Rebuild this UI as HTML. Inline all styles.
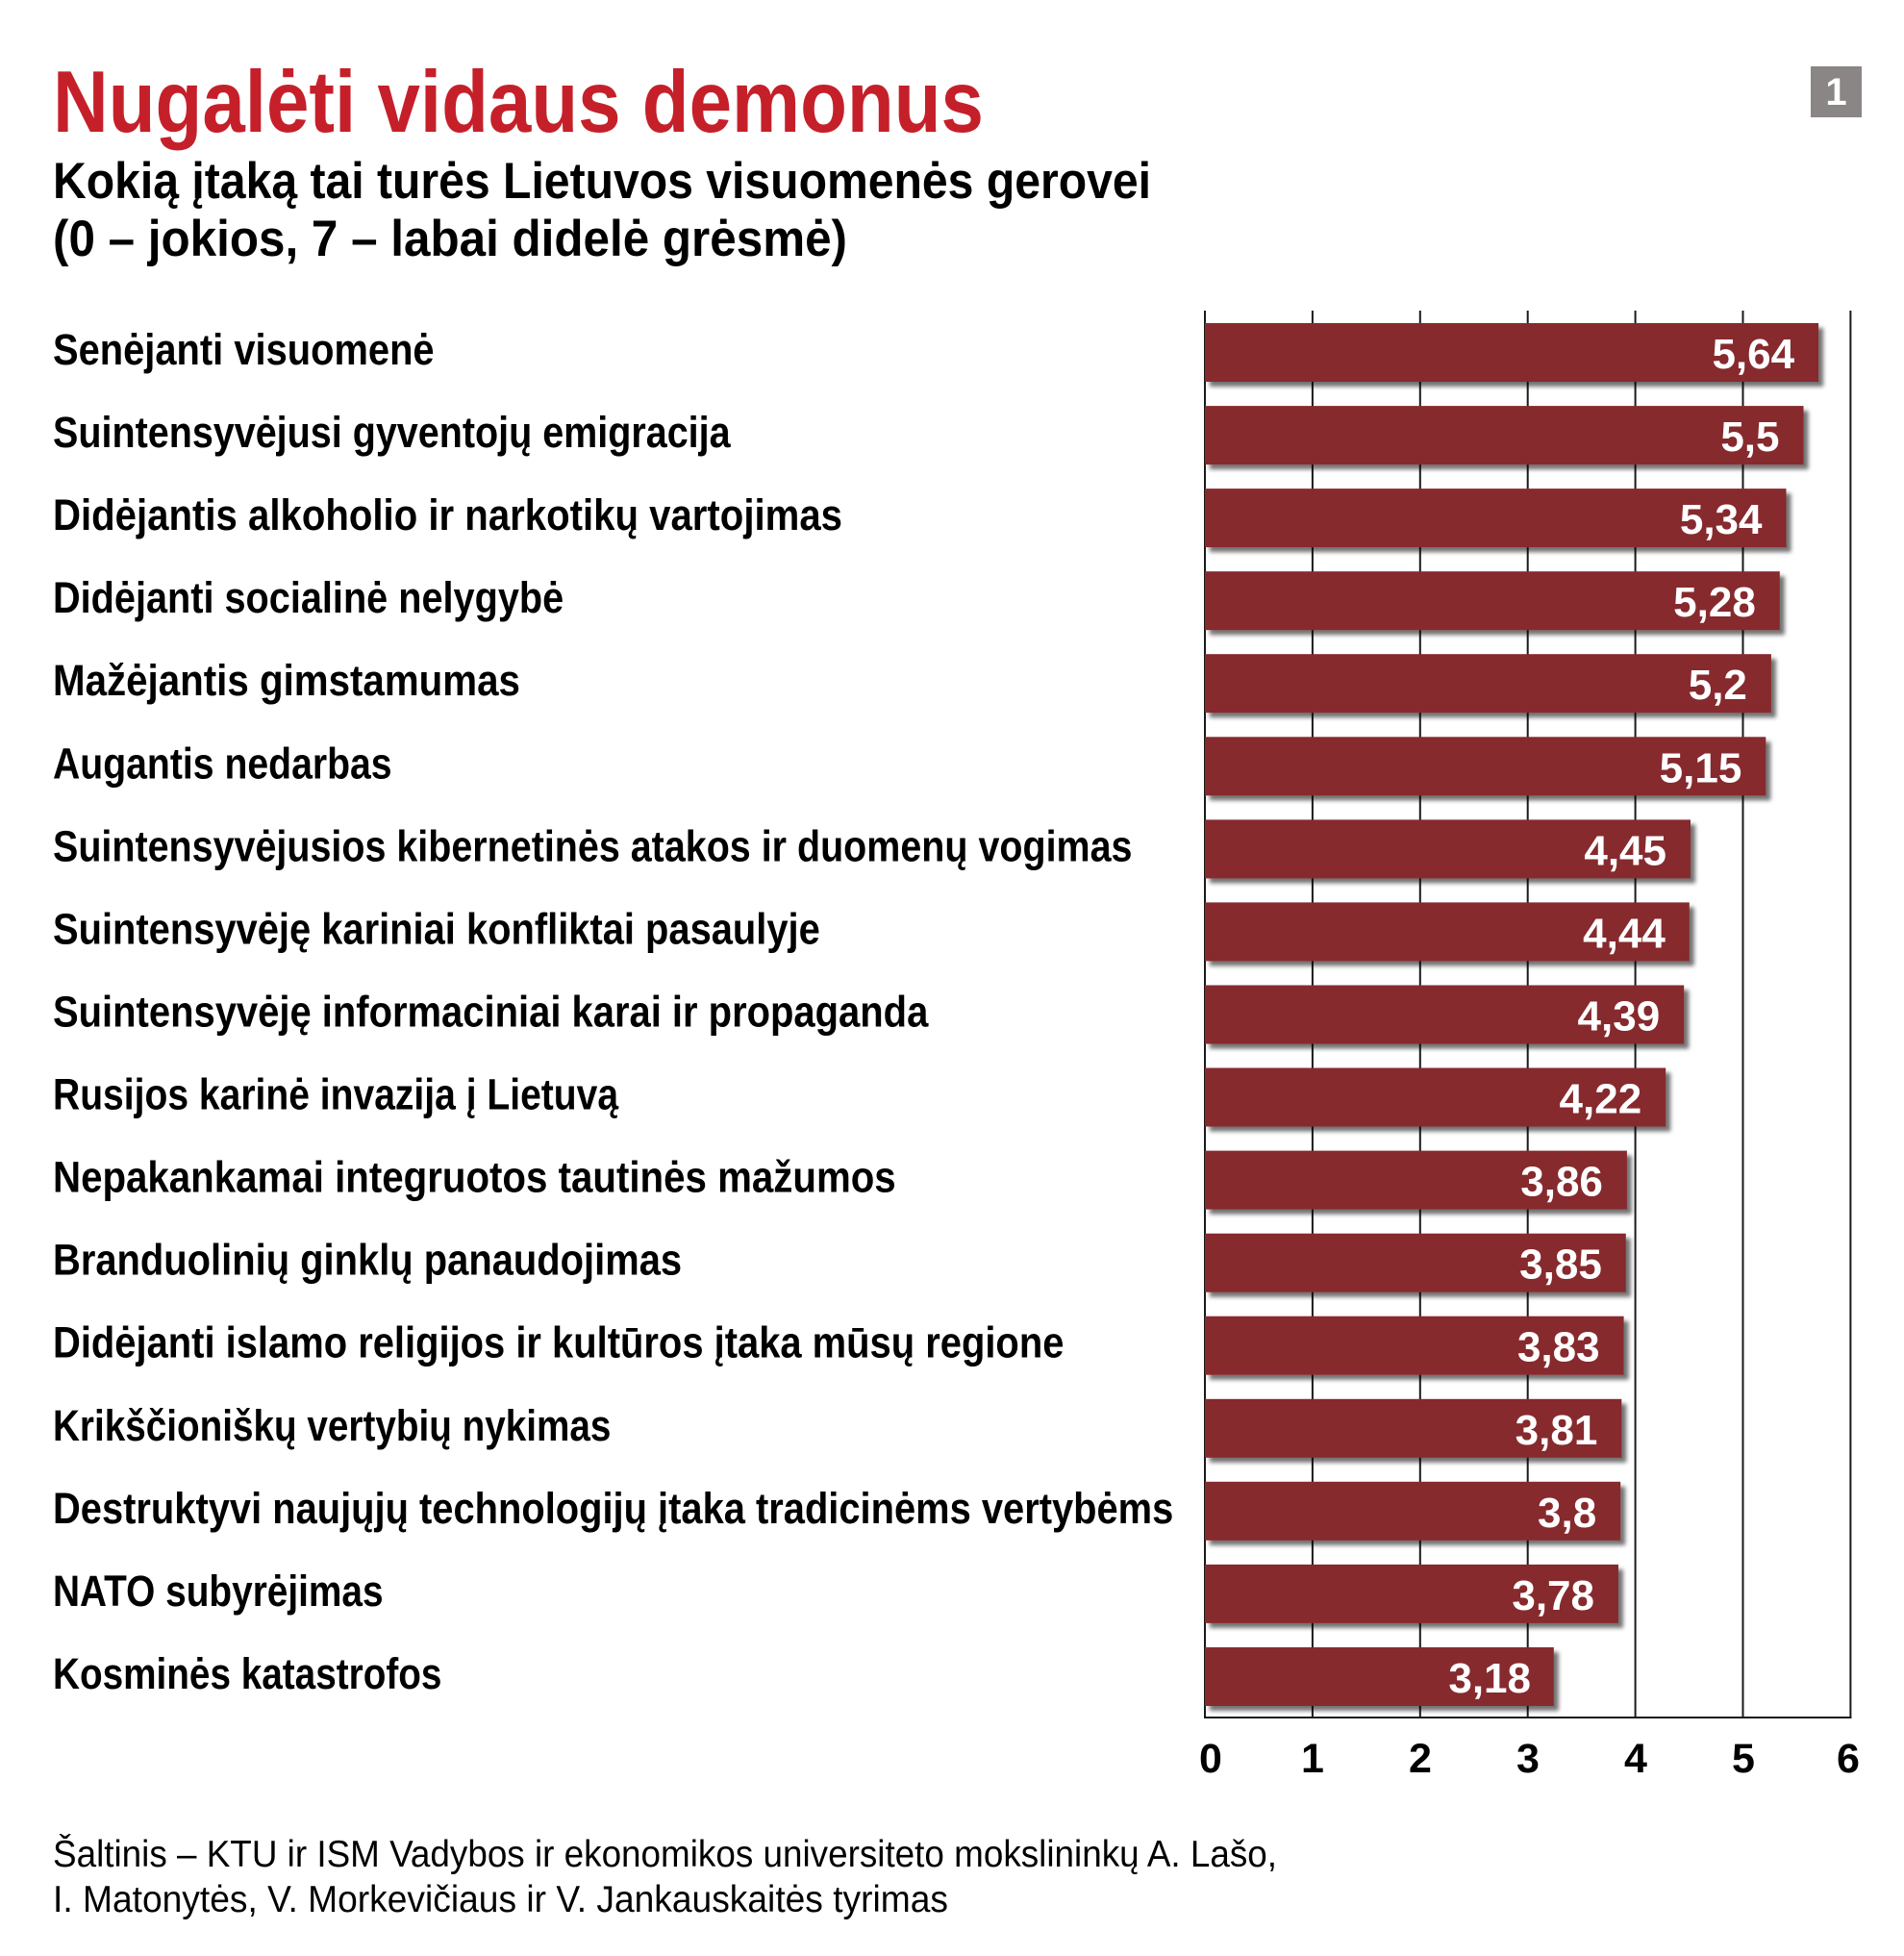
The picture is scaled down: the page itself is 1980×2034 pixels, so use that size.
<!DOCTYPE html>
<html>
<head>
<meta charset="utf-8">
<style>
  html,body{margin:0;padding:0;background:#fff;}
  svg{display:block;}
  text{font-family:"Liberation Sans", Arial, sans-serif;}
</style>
</head>
<body>
<svg width="1980" height="2034" viewBox="0 0 1980 2034" xmlns="http://www.w3.org/2000/svg">
  <defs>
    <filter id="sh" x="-5%" y="-20%" width="115%" height="160%">
      <feDropShadow dx="5" dy="5" stdDeviation="2.2" flood-color="#000" flood-opacity="0.55"/>
    </filter>
  </defs>
  <rect width="1980" height="2034" fill="#fff"/>

  <!-- Title -->
  <text x="55" y="137" font-size="91" font-weight="bold" fill="#c5202a" textLength="968" lengthAdjust="spacingAndGlyphs">Nugalėti vidaus demonus</text>
  <text x="55" y="206" font-size="53" font-weight="bold" fill="#000" textLength="1142" lengthAdjust="spacingAndGlyphs">Kokią įtaką tai turės Lietuvos visuomenės gerovei</text>
  <text x="55" y="266" font-size="53" font-weight="bold" fill="#000" textLength="826" lengthAdjust="spacingAndGlyphs">(0 – jokios, 7 – labai didelė grėsmė)</text>

  <!-- Badge -->
  <rect x="1883" y="69" width="53" height="53" fill="#8a8686"/>
  <text x="1909.5" y="109" font-size="40" font-weight="bold" fill="#fff" text-anchor="middle">1</text>

  <!-- Grid lines -->
  <g stroke="#1a1a1a" stroke-width="2">
    <line x1="1253" y1="323" x2="1253" y2="1787"/>
    <line x1="1364.9" y1="323" x2="1364.9" y2="1787"/>
    <line x1="1476.8" y1="323" x2="1476.8" y2="1787"/>
    <line x1="1588.7" y1="323" x2="1588.7" y2="1787"/>
    <line x1="1700.6" y1="323" x2="1700.6" y2="1787"/>
    <line x1="1812.5" y1="323" x2="1812.5" y2="1787"/>
    <line x1="1924.4" y1="323" x2="1924.4" y2="1787"/>
    <line x1="1252" y1="1786" x2="1925.4" y2="1786"/>
  </g>

  <!-- Bars -->
  <g fill="#862a2d" filter="url(#sh)">
    <rect x="1253" y="336" width="638.1" height="61"/>
    <rect x="1253" y="422.1" width="622.5" height="61"/>
    <rect x="1253" y="508.1" width="604.5" height="61"/>
    <rect x="1253" y="594.2" width="597.8" height="61"/>
    <rect x="1253" y="680.2" width="588.9" height="61"/>
    <rect x="1253" y="766.3" width="583.3" height="61"/>
    <rect x="1253" y="852.4" width="505" height="61"/>
    <rect x="1253" y="938.4" width="503.8" height="61"/>
    <rect x="1253" y="1024.5" width="498.2" height="61"/>
    <rect x="1253" y="1110.5" width="479.2" height="61"/>
    <rect x="1253" y="1196.6" width="438.9" height="61"/>
    <rect x="1253" y="1282.7" width="437.8" height="61"/>
    <rect x="1253" y="1368.7" width="435.6" height="61"/>
    <rect x="1253" y="1454.8" width="433.3" height="61"/>
    <rect x="1253" y="1540.8" width="432.2" height="61"/>
    <rect x="1253" y="1626.9" width="430" height="61"/>
    <rect x="1253" y="1713" width="362.8" height="61"/>
  </g>

  <!-- Value labels -->
  <g font-size="44" font-weight="bold" fill="#fff" text-anchor="end">
    <text x="1866.1" y="383">5,64</text>
    <text x="1850.5" y="469.1">5,5</text>
    <text x="1832.5" y="555.1">5,34</text>
    <text x="1825.8" y="641.2">5,28</text>
    <text x="1816.9" y="727.2">5,2</text>
    <text x="1811.3" y="813.3">5,15</text>
    <text x="1733" y="899.4">4,45</text>
    <text x="1731.8" y="985.4">4,44</text>
    <text x="1726.2" y="1071.5">4,39</text>
    <text x="1707.2" y="1157.5">4,22</text>
    <text x="1666.9" y="1243.6">3,86</text>
    <text x="1665.8" y="1329.7">3,85</text>
    <text x="1663.6" y="1415.7">3,83</text>
    <text x="1661.3" y="1501.8">3,81</text>
    <text x="1660.2" y="1587.8">3,8</text>
    <text x="1658" y="1673.9">3,78</text>
    <text x="1592" y="1760">3,18</text>
  </g>

  <!-- Category labels -->
  <g font-size="45" font-weight="bold" fill="#000" lengthAdjust="spacingAndGlyphs">
    <text x="55" y="379" textLength="396.6" lengthAdjust="spacingAndGlyphs">Senėjanti visuomenė</text>
    <text x="55" y="465.1" textLength="704.6" lengthAdjust="spacingAndGlyphs">Suintensyvėjusi gyventojų emigracija</text>
    <text x="55" y="551.1" textLength="821" lengthAdjust="spacingAndGlyphs">Didėjantis alkoholio ir narkotikų vartojimas</text>
    <text x="55" y="637.2" textLength="531.2" lengthAdjust="spacingAndGlyphs">Didėjanti socialinė nelygybė</text>
    <text x="55" y="723.2" textLength="485.9" lengthAdjust="spacingAndGlyphs">Mažėjantis gimstamumas</text>
    <text x="55" y="809.3" textLength="352.6" lengthAdjust="spacingAndGlyphs">Augantis nedarbas</text>
    <text x="55" y="895.4" textLength="1122.5" lengthAdjust="spacingAndGlyphs">Suintensyvėjusios kibernetinės atakos ir duomenų vogimas</text>
    <text x="55" y="981.4" textLength="797.8" lengthAdjust="spacingAndGlyphs">Suintensyvėję kariniai konfliktai pasaulyje</text>
    <text x="55" y="1067.5" textLength="910.3" lengthAdjust="spacingAndGlyphs">Suintensyvėję informaciniai karai ir propaganda</text>
    <text x="55" y="1153.5" textLength="588.1" lengthAdjust="spacingAndGlyphs">Rusijos karinė invazija į Lietuvą</text>
    <text x="55" y="1239.6" textLength="876.7" lengthAdjust="spacingAndGlyphs">Nepakankamai integruotos tautinės mažumos</text>
    <text x="55" y="1325.7" textLength="654.1" lengthAdjust="spacingAndGlyphs">Branduolinių ginklų panaudojimas</text>
    <text x="55" y="1411.7" textLength="1051.4" lengthAdjust="spacingAndGlyphs">Didėjanti islamo religijos ir kultūros įtaka mūsų regione</text>
    <text x="55" y="1497.8" textLength="580.4" lengthAdjust="spacingAndGlyphs">Krikščioniškų vertybių nykimas</text>
    <text x="55" y="1583.8" textLength="1165.3" lengthAdjust="spacingAndGlyphs">Destruktyvi naujųjų technologijų įtaka tradicinėms vertybėms</text>
    <text x="55" y="1669.9" textLength="343.6" lengthAdjust="spacingAndGlyphs">NATO subyrėjimas</text>
    <text x="55" y="1756" textLength="404.4" lengthAdjust="spacingAndGlyphs">Kosminės katastrofos</text>
  </g>

  <!-- Axis tick labels -->
  <g font-size="43" font-weight="bold" fill="#000" text-anchor="middle">
    <text x="1259" y="1843">0</text>
    <text x="1365" y="1843">1</text>
    <text x="1477" y="1843">2</text>
    <text x="1589" y="1843">3</text>
    <text x="1701" y="1843">4</text>
    <text x="1813" y="1843">5</text>
    <text x="1922" y="1843">6</text>
  </g>

  <!-- Source -->
  <text x="55" y="1941" font-size="38.5" fill="#000" textLength="1273" lengthAdjust="spacingAndGlyphs">Šaltinis – KTU ir ISM Vadybos ir ekonomikos universiteto mokslininkų A. Lašo,</text>
  <text x="55" y="1988" font-size="38.5" fill="#000" textLength="931" lengthAdjust="spacingAndGlyphs">I. Matonytės, V. Morkevičiaus ir V. Jankauskaitės tyrimas</text>
</svg>
</body>
</html>
